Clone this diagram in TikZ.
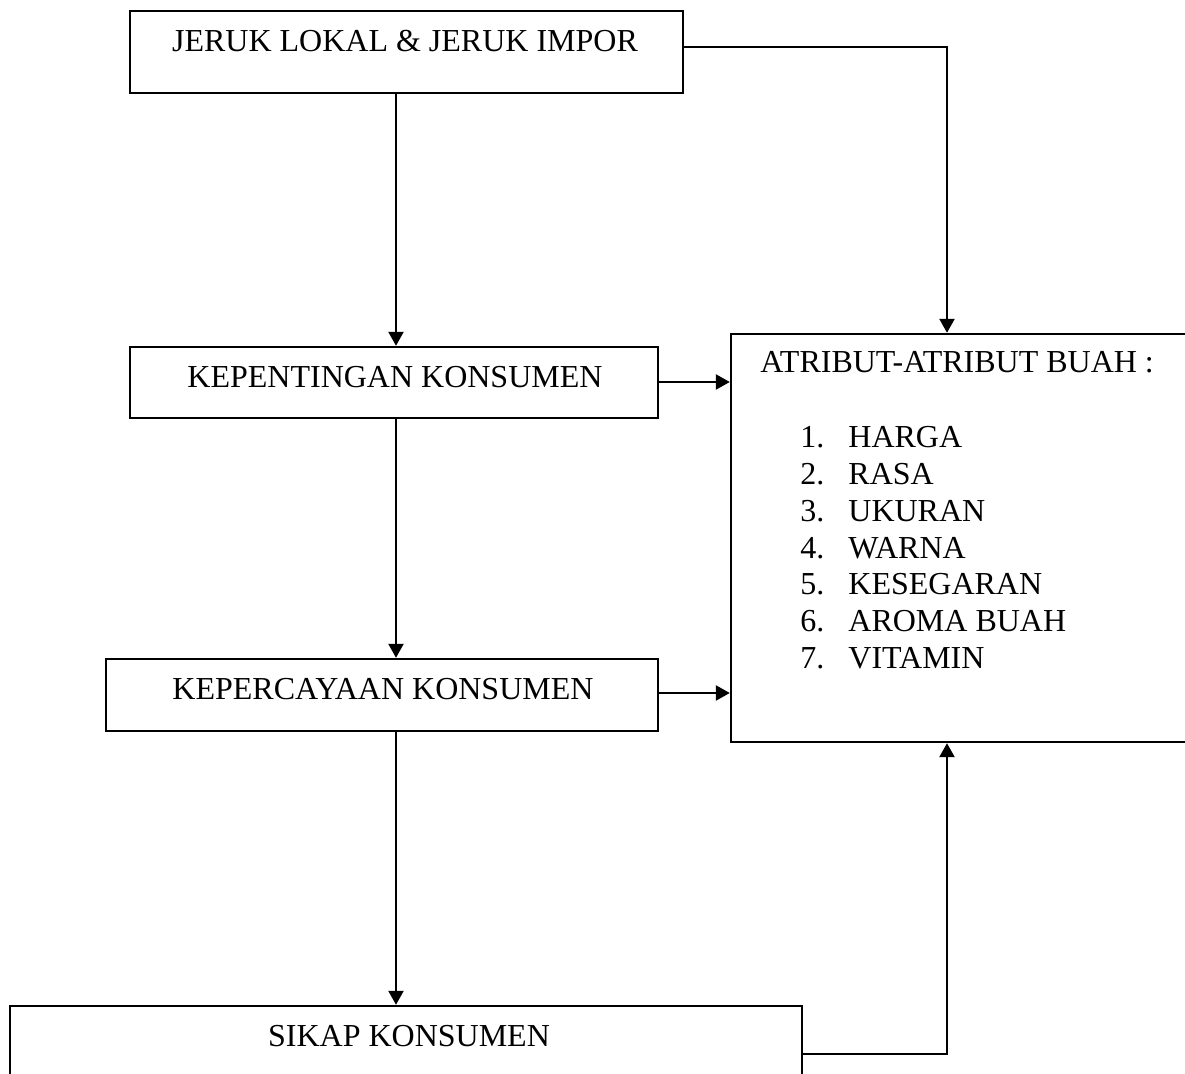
\documentclass[tikz,border=0pt]{standalone}
\usepackage{fontspec}
\setmainfont{Liberation Serif}
\usetikzlibrary{arrows.meta}
\begin{document}
\begin{tikzpicture}[x=0.5pt,y=-0.5pt,
  box/.style={draw, line width=1.2pt, rectangle, inner sep=0pt},
  lbl/.style={inner sep=0pt, font=\fontsize{16}{18.4}\selectfont},
  conn/.style={line width=1.2pt, -{Triangle[length=7pt,width=7.5pt]}}]
\clip (0,0) rectangle (1185,1074);
\fill[white] (0,0) rectangle (1185,1074);
% boxes
\node[box, minimum width=276.5pt, minimum height=41pt] (b1) at (406.5,52) {};
\node[box, minimum width=264pt, minimum height=35.5pt] (b2) at (394,382.5) {};
\node[box, minimum width=276pt, minimum height=36pt] (b3) at (382,695) {};
\node[box, minimum width=396pt, minimum height=50pt] (b4) at (406,1056) {};
\node[box, minimum width=240pt, minimum height=204pt] (b5) at (971,538) {};
% texts
\node[lbl, anchor=base] (t1) at (405,52) {JERUK LOKAL \& JERUK IMPOR};
\node[lbl, anchor=base] (t2) at (395,388) {KEPENTINGAN KONSUMEN};
\node[lbl, anchor=base] (t3) at (383,700) {KEPERCAYAAN KONSUMEN};
\node[lbl, anchor=base] (t4) at (409,1047) {SIKAP KONSUMEN};
\node[lbl, anchor=base west] (t5) at (760,373) {ATRIBUT-ATRIBUT BUAH :};
\foreach \n/\t [count=\i] in {1/HARGA,2/RASA,3/UKURAN,4/WARNA,5/KESEGARAN,6/AROMA BUAH,7/VITAMIN}{
  \node[lbl, anchor=base west] (n\i) at (800,{448+36.7*(\i-1)}) {\n.};
  \node[lbl, anchor=base west] (i\i) at (848,{448+36.7*(\i-1)}) {\t};
}
% connectors
\coordinate (c1) at (947,47);
\coordinate (c2) at (947,1054);
\draw[conn] (b1.south -| 396,0) -- (b2.north -| 396,0);
\draw[conn] (b2.south -| 396,0) -- (b3.north -| 396,0);
\draw[conn] (b3.south -| 396,0) -- (b4.north -| 396,0);
\draw[conn] (b1.east |- c1) -- (c1) -- (b5.north -| c1);
\draw[conn] (b2.east |- 0,382) -- (b5.west |- 0,382);
\draw[conn] (b3.east |- 0,693) -- (b5.west |- 0,693);
\draw[conn] (b4.east |- c2) -- (c2) -- (b5.south -| c2);
\end{tikzpicture}
\end{document}
